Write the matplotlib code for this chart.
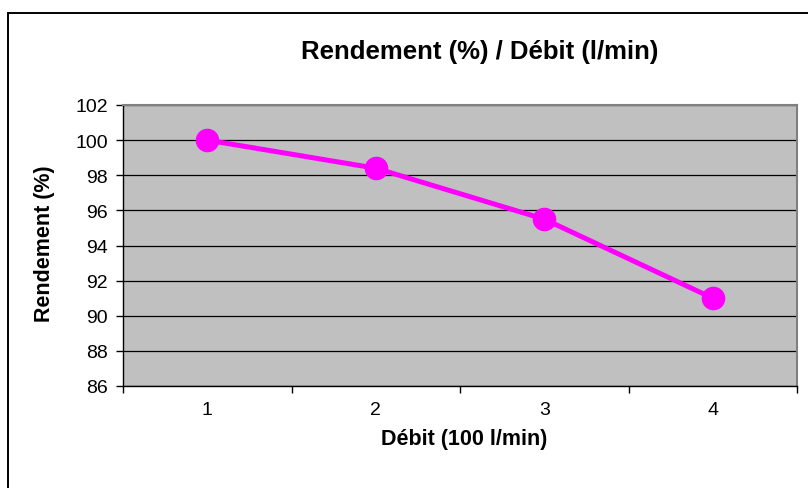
import matplotlib
matplotlib.use("Agg")
import matplotlib.pyplot as plt
from matplotlib.patches import Rectangle

plt.rcParams['font.family'] = ['Liberation Sans', 'DejaVu Sans']

# données
debit = [1, 2, 3, 4]
rendement = [100, 98.4, 95.5, 91]
yticks = [86, 88, 90, 92, 94, 96, 98, 100, 102]

fig = plt.figure(figsize=(8.08, 4.89), dpi=100)
ax = fig.add_axes([123/808, 1 - 387/489, 674/808, 281/489])
ax.set_facecolor('#C0C0C0')

# cadre extérieur du graphique
fig.patches.append(Rectangle((8/808, -0.05), 1.0, 1 - 14/489 + 0.05,
                             transform=fig.transFigure, fill=False,
                             edgecolor='black', linewidth=1.4))

ax.plot(debit, rendement, color='#FF00FF', linewidth=3.6,
        marker='o', markersize=16, markerfacecolor='#FF00FF',
        markeredgecolor='#FF00FF', zorder=3)

ax.set_xlim(0.5, 4.5)
ax.set_ylim(86, 102)
ax.set_yticks(yticks)
ax.set_xticks(debit)
ax.set_xticks([0.5, 1.5, 2.5, 3.5, 4.5], minor=True)
ax.tick_params(axis='x', which='major', length=0, pad=11, labelsize=14)
ax.tick_params(axis='x', which='minor', length=5, width=1, direction='out')
ax.tick_params(axis='y', length=5, width=1, direction='out', pad=6, labelsize=14)

ax.grid(axis='y', color='black', linewidth=0.9)
ax.set_axisbelow(True)

for s in ['top', 'right']:
    ax.spines[s].set_color('#808080')
    ax.spines[s].set_linewidth(1.5)
for s in ['left', 'bottom']:
    ax.spines[s].set_color('black')
    ax.spines[s].set_linewidth(1.0)

fig.text(464/808, 1 - 440/489, "Débit (100 l/min)", fontsize=15.5,
         fontweight='bold', ha='center', va='center')
fig.text(45/808, 1 - 243.5/489, "Rendement (%)", fontsize=15.5,
         fontweight='bold', ha='center', va='center', rotation=90)
fig.text(480/808, 1 - 51.5/489, "Rendement (%) / Débit (l/min)",
         fontsize=18.5, fontweight='bold', ha='center', va='center')

fig.savefig("out.png", dpi=100)
